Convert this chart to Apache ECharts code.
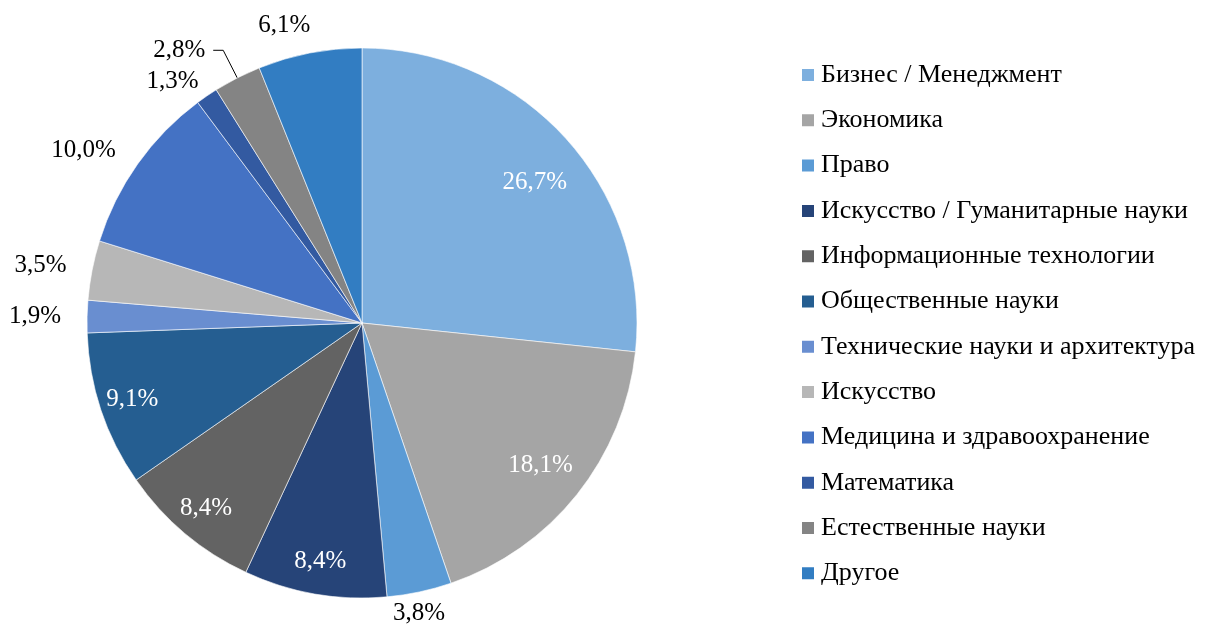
<!DOCTYPE html>
<html>
<head>
<meta charset="utf-8">
<script src="https://cdn.jsdelivr.net/npm/echarts@6/dist/echarts.min.js"></script>
<style>
  html, body { margin: 0; padding: 0; background: #fff; }
  #chart { width: 1207px; height: 625px; }
</style>
</head>
<body>
<div id="chart"></div>
<script>
// доли направлений, по часовой стрелке от 12 часов
const categories = [
  "Бизнес / Менеджмент",
  "Экономика",
  "Право",
  "Искусство / Гуманитарные науки",
  "Информационные технологии",
  "Общественные науки",
  "Технические науки и архитектура",
  "Искусство",
  "Медицина и здравоохранение",
  "Математика",
  "Естественные науки",
  "Другое"
];
const values = [26.7, 18.1, 3.8, 8.4, 8.4, 9.1, 1.9, 3.5, 10.0, 1.3, 2.8, 6.1];
const colors = [
  "#7DAFDE", "#A5A5A5", "#5B9BD5", "#264478", "#636363", "#255E91",
  "#698ED0", "#B7B7B7", "#4472C4", "#335AA1", "#848484", "#327DC2"
];
// какие подписи внутри сектора (белые)
const insideNear = [0, 1];     // ближе к центру
const insideFar = [3, 4, 5];   // ближе к краю

const FONT = "'Liberation Serif', 'Times New Roman', serif";
const FS = 25;
const R = 275;
const center = [362, 323];

function fmt(v) {
  return v.toFixed(1).replace(".", ",") + "%";
}

const chart = echarts.init(document.getElementById("chart"));

const mainData = categories.map((name, i) => {
  const inside = insideNear.includes(i) || insideFar.includes(i);
  const item = {
    name: name,
    value: values[i],
    itemStyle: { color: colors[i] },
    label: { show: !inside }
  };
  if (i === 2) item.labelLine = { length: 22 };
  if (i === 9) item.labelLine = { length: 18 };
  if (i === 11) item.labelLine = { length: 28 };
  if (i === 10) {
    // 2,8% с выноской
    item.labelLine = { show: true, length: 31, length2: 10, lineStyle: { color: "#000", width: 1 } };
    item.label.distanceToLabelLine = 8;
  }
  return item;
});

function overlayData(list) {
  return categories.map((name, i) => ({
    name: name,
    value: values[i],
    label: { show: list.includes(i) }
  }));
}

const overlayBase = {
  type: "pie",
  center: center,
  startAngle: 90,
  clockwise: true,
  silent: true,
  legendHoverLink: false,
  itemStyle: { color: "transparent" },
  emphasis: { disabled: true },
  labelLine: { show: false },
  label: {
    position: "inside",
    color: "#fff",
    fontFamily: FONT,
    fontSize: FS,
    formatter: p => fmt(p.value)
  }
};

chart.setOption({
  animation: false,
  backgroundColor: "#fff",
  legend: {
    orient: "vertical",
    left: 800,
    top: 62,
    padding: 0,
    data: categories,
    icon: "rect",
    itemWidth: 14,
    itemHeight: 14,
    itemGap: 19.3,
    textStyle: {
      fontFamily: FONT,
      fontSize: 26,
      lineHeight: 26,
      color: "#000",
      padding: [0, 0, 0, 1]
    }
  },
  series: [
    {
      type: "pie",
      radius: R,
      center: center,
      startAngle: 90,
      clockwise: true,
      avoidLabelOverlap: false,
      itemStyle: { borderColor: "#fff", borderWidth: 0.6 },
      label: {
        position: "outside",
        color: "#000",
        fontFamily: FONT,
        fontSize: FS,
        distanceToLabelLine: 3,
        formatter: p => fmt(p.value)
      },
      labelLine: { show: false, length: 23, length2: 0 },
      labelLayout: function (p) {
        // Excel центрирует подписи у низа и верха круга
        if (p.dataIndex === 2) return { dx: -34 };
        if (p.dataIndex === 9) return { dx: 5 };
        if (p.dataIndex === 11) return { dx: 9 };
        return {};
      },
      data: mainData
    },
    Object.assign({}, overlayBase, {
      radius: [R * 0.64, R],
      labelLayout: function (p) {
        if (p.dataIndex === 0) return { dx: 3, dy: 12 };
        return {};
      },
      data: overlayData(insideNear)
    }),
    Object.assign({}, overlayBase, {
      radius: [R * 0.74, R],
      data: overlayData(insideFar)
    })
  ]
});
</script>
</body>
</html>
